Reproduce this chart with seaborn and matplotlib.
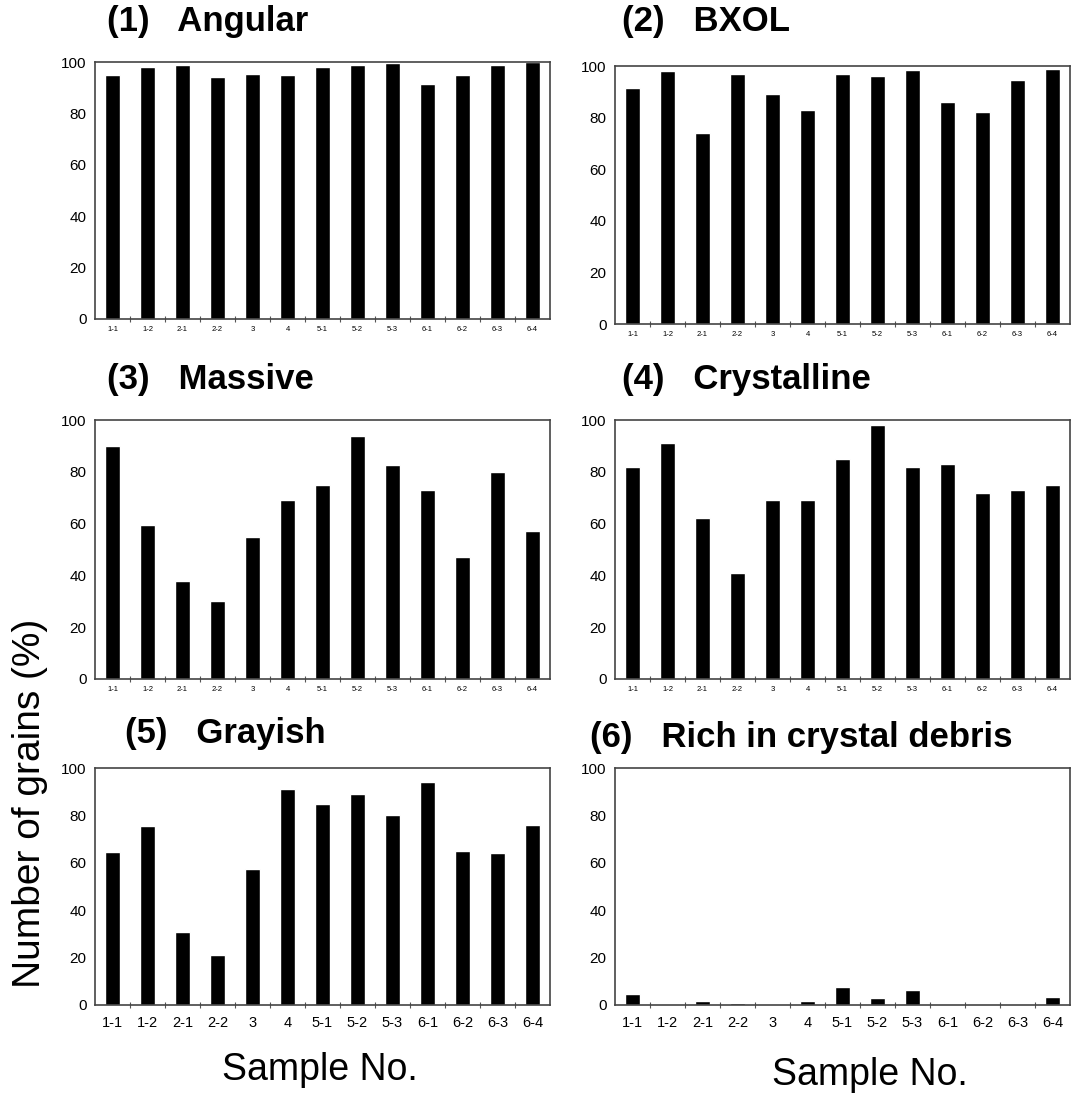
import numpy as np
import pandas as pd
import matplotlib
matplotlib.use("Agg")
import matplotlib.pyplot as plt
import seaborn as sns

# Dados
samples = ["1-1", "1-2", "2-1", "2-2", "3", "4", "5-1", "5-2", "5-3",
           "6-1", "6-2", "6-3", "6-4"]
angular = [95, 98, 99, 94, 95.5, 95, 98, 99, 99.5, 91.5, 95, 99, 100]
bxol = [91.5, 98, 74, 97, 89, 83, 97, 96, 98.5, 86, 82, 94.5, 99]
massive = [90, 59.5, 38, 30, 55, 69, 75, 94, 82.5, 73, 47, 80, 57]
crystalline = [82, 91, 62, 41, 69, 69, 85, 98, 82, 83, 72, 73, 75]
grayish = [64.5, 75.5, 31, 21, 57.5, 91, 85, 89, 80, 94, 65, 64, 76]
crystal_debris = [4.5, 0, 1.5, 0.7, 0, 1.5, 7.8, 3, 6.5, 0, 0, 0, 3.5]

titles = ["(1)   Angular", "(2)   BXOL", "(3)   Massive", "(4)   Crystalline",
          "(5)   Grayish", "(6)   Rich in crystal debris"]
series = [angular, bxol, massive, crystalline, grayish, crystal_debris]

sns.set_style("white")
plt.rcParams['font.family'] = ['Liberation Sans', 'DejaVu Sans']
plt.rcParams['text.color'] = 'black'
plt.rcParams['xtick.color'] = 'black'
plt.rcParams['ytick.color'] = 'black'

W, H = 1078, 1094
fig = plt.figure(figsize=(W / 100, H / 100), dpi=100)

# posições dos painéis em pixels: (esquerda, topo, direita, base)
boxes = [(95, 62, 550, 319), (615, 66, 1070, 324),
         (95, 420, 550, 679), (615, 420, 1070, 679),
         (95, 768, 550, 1005), (615, 768, 1070, 1005)]
title_pos = [(107, 21), (622, 21), (107, 379), (622, 379), (125, 733), (590, 737)]

for i, (vals, title) in enumerate(zip(series, titles)):
    l, t, r, b = boxes[i]
    ax = fig.add_axes([l / W, 1 - b / H, (r - l) / W, (b - t) / H])
    df = pd.DataFrame({"sample": samples, "value": vals})
    sns.barplot(data=df, x="sample", y="value", color="black", width=0.45,
                saturation=1, ax=ax)
    ax.set_ylim(0, 100)
    ax.set_xlim(-0.5, len(samples) - 0.5)
    ax.set_yticks(np.arange(0, 101, 20))
    ax.set_xlabel("")
    ax.set_ylabel("")
    bottom_row = i >= 4
    ax.tick_params(axis="x", labelsize=10.5 if bottom_row else 5.5, length=0,
                   pad=8 if bottom_row else 5)
    ax.tick_params(axis="y", labelsize=11, length=0, pad=6)
    # marcas entre as categorias
    ax.set_xticks(np.arange(0.5, len(samples) - 1, 1), minor=True)
    ax.tick_params(axis="x", which="minor", direction="inout", length=5,
                   width=0.8, color="#555555", bottom=True)
    for sp in ax.spines.values():
        sp.set_visible(True)
        sp.set_color("#444444")
        sp.set_linewidth(1.2)
    tx, ty = title_pos[i]
    fig.text(tx / W, 1 - ty / H, title, fontsize=25, fontweight="bold",
             ha="left", va="center")

fig.text(30 / W, 1 - 803 / H, "Number of grains (%)", fontsize=28,
         rotation=90, ha="center", va="center")
fig.text(320 / W, 1 - 1070 / H, "Sample No.", fontsize=27, ha="center", va="center")
fig.text(870 / W, 1 - 1075 / H, "Sample No.", fontsize=27, ha="center", va="center")

fig.savefig("out.png", dpi=100, facecolor="white")
